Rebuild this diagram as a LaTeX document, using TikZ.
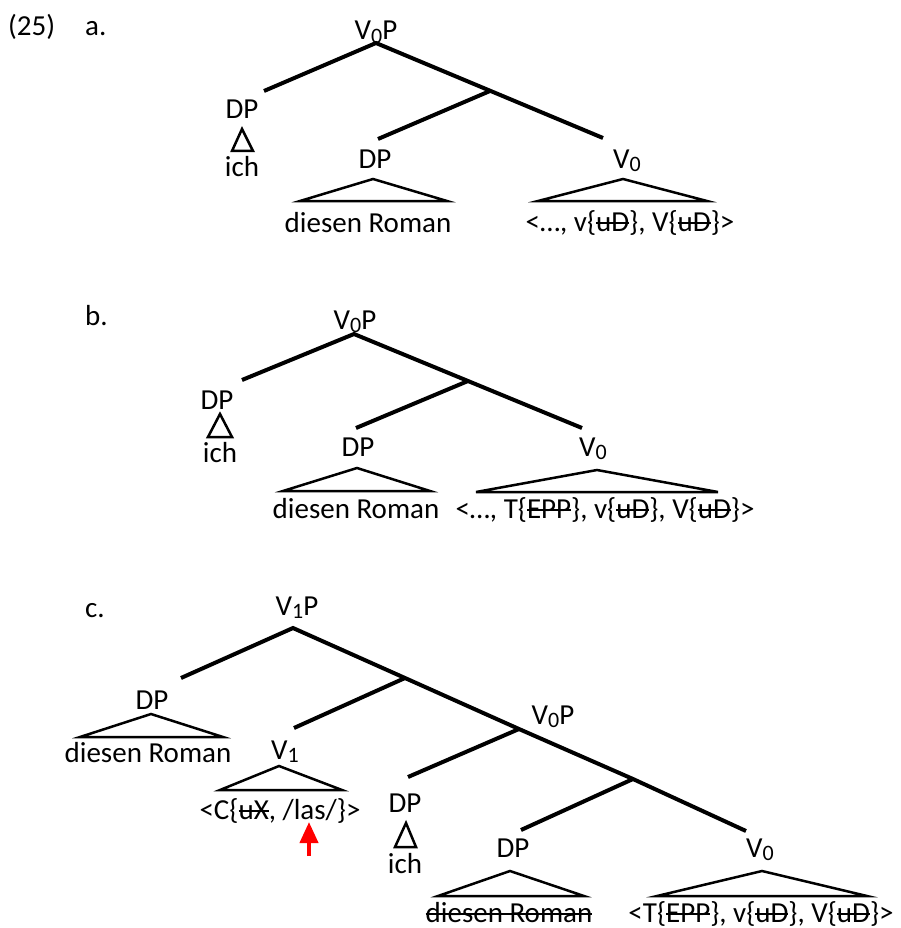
\documentclass[tikz,border=0pt]{standalone}
\usepackage{fontspec}
\setmainfont{Carlito}
\usetikzlibrary{arrows.meta}
\newcommand\subn[1]{\raisebox{-3.5pt}{\fontsize{22}{22}\selectfont #1}}
\newsavebox\strkbox
\newcommand\strk[1]{\sbox\strkbox{#1}\rlap{\usebox\strkbox}\rule[0.25em]{\wd\strkbox}{2pt}}
\begin{document}
\begin{tikzpicture}[x=1pt,y=-1pt,
  lbl/.style={inner sep=0pt, anchor=base, font=\fontsize{29}{34}\selectfont},
  branch/.style={line width=4pt},
  tri/.style={line width=2.5pt, line join=miter}]
\useasboundingbox (0,0) rectangle (900,928);

% ---------- (25a) ----------
\node[lbl, anchor=base west] (num) at (8,36) {(25)};
\node[lbl, anchor=base west] (la) at (85,36) {a.};
\node[lbl] (aR) at (376,40) {V\subn{0}P};
\node[lbl] (aDP1) at (242,119) {DP};
\node[lbl] (aIch) at (242,177) {ich};
\node[lbl] (aDP2) at (375,168) {DP};
\node[lbl] (aDR) at (368,232) {diesen Roman};
\node[lbl] (aV) at (627,168) {V\subn{0}};
\node[lbl] (aVt) at (630,231) {<…, v\{\strk{uD}\}, V\{\strk{uD}\}>};
\coordinate (aRt) at (376,43);
\coordinate (aLb) at (264,91);
\coordinate (aM) at (490,91);
\coordinate (aMb) at (378,139);
\coordinate (aVb) at (603,138);
\draw[branch] (aLb) -- (aRt) -- (aVb);
\draw[branch] (aM) -- (aMb);
\draw[tri] (242,129) -- (232,151) -- (253,151) -- cycle;
\draw[tri] (373,179) -- (300,201) -- (447,201) -- cycle;
\draw[tri] (623,179) -- (538,201) -- (707,201) -- cycle;

% ---------- (25b) ----------
\node[lbl, anchor=base west] (lb) at (85,325) {b.};
\node[lbl] (bR) at (355,329) {V\subn{0}P};
\node[lbl] (bDP1) at (217,409) {DP};
\node[lbl] (bIch) at (220,462) {ich};
\node[lbl] (bDP2) at (358,456) {DP};
\node[lbl] (bDR) at (356,518) {diesen Roman};
\node[lbl] (bV) at (593,456) {V\subn{0}};
\node[lbl] (bVt) at (605,518) {<…, T\{\strk{EPP}\}, v\{\strk{uD}\}, V\{\strk{uD}\}>};
\coordinate (bRt) at (354,334);
\coordinate (bLb) at (242,380);
\coordinate (bM) at (468,381);
\coordinate (bMb) at (356,428);
\coordinate (bVb) at (582,428);
\draw[branch] (bLb) -- (bRt) -- (bVb);
\draw[branch] (bM) -- (bMb);
\draw[tri] (220,414) -- (208,437) -- (232,437) -- cycle;
\draw[tri] (357,468) -- (283,491) -- (430,491) -- cycle;
\draw[tri] (597,470) -- (476,492) -- (718,492) -- cycle;

% ---------- (25c) ----------
\node[lbl, anchor=base west] (lc) at (85,617) {c.};
\node[lbl] (cR) at (297,615) {V\subn{1}P};
\node[lbl] (cDP1) at (152,709) {DP};
\node[lbl] (cDR1) at (148,762) {diesen Roman};
\node[lbl] (cV1) at (285,759) {V\subn{1}};
\node[lbl] (cV1t) at (280,819) {<C\{\strk{uX}, /las/\}>};
\node[lbl] (cDP2) at (405,812) {DP};
\node[lbl] (cIch) at (405,873) {ich};
\node[lbl] (cV0P) at (553,724) {V\subn{0}P};
\node[lbl] (cDP3) at (513,857) {DP};
\node[lbl] (cV0) at (760,857) {V\subn{0}};
\node[lbl] (cDR2) at (509,922) {\strk{diesen Roman}};
\node[lbl] (cV0t) at (761,922) {<T\{\strk{EPP}\}, v\{\strk{uD}\}, V\{\strk{uD}\}>};
\coordinate (cRt) at (293,628);
\coordinate (cLb) at (181,678);
\coordinate (cJ1) at (405,678);
\coordinate (cV1b) at (294,728);
\coordinate (cJ2) at (519,729);
\coordinate (cDP2b) at (408,777);
\coordinate (cJ3) at (633,779);
\coordinate (cDP3b) at (521,830);
\coordinate (cV0b) at (746,831);
\draw[branch] (cLb) -- (cRt) -- (cJ1) -- (cJ2) -- (cJ3) -- (cV0b);
\draw[branch] (cJ1) -- (cV1b);
\draw[branch] (cJ2) -- (cDP2b);
\draw[branch] (cJ3) -- (cDP3b);
\draw[tri] (151,714) -- (80,737) -- (223,737) -- cycle;
\draw[tri] (279,766) -- (220,790) -- (342,790) -- cycle;
\draw[tri] (406,823) -- (395,847) -- (416,847) -- cycle;
\draw[tri] (510,871) -- (438,896) -- (584,896) -- cycle;
\draw[tri] (762,871) -- (657,896) -- (867,896) -- cycle;
\coordinate (arrS) at (309,856);
\coordinate (arrE) at (309,822);
\draw[red, line width=4pt, -{Triangle[length=21pt,width=18pt]}] (arrS) -- (arrE);
\end{tikzpicture}
\end{document}
